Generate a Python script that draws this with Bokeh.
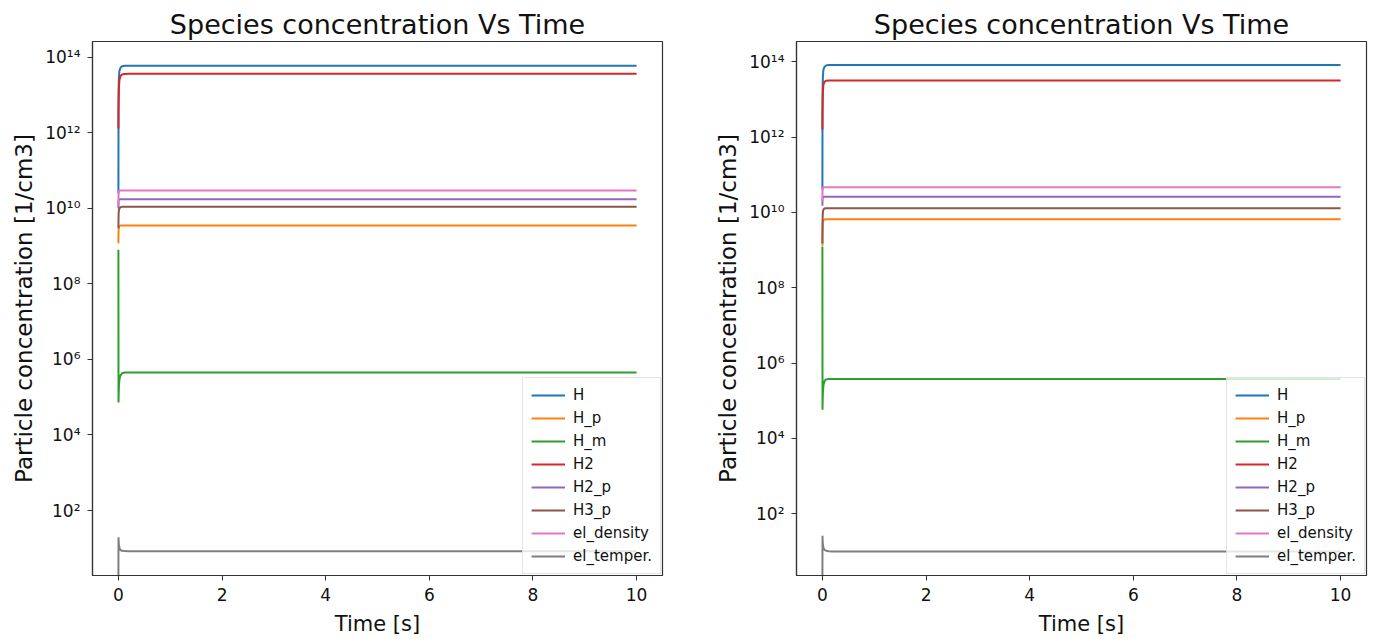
from bokeh.plotting import figure
from bokeh.layouts import row
from bokeh.models import FixedTicker, CustomJSTickFormatter, Range1d
from bokeh.embed import file_html
from bokeh.resources import INLINE

# ---------------- data ----------------
time_s = [0, 0.002, 0.005, 0.01, 0.02, 0.04, 0.07, 0.12, 0.2, 10]

species = ["H", "H_p", "H_m", "H2", "H2_p", "H3_p", "el_density", "el_temper."]
colors = ["#1f77b4", "#ff7f0e", "#2ca02c", "#d62728",
          "#9467bd", "#8c564b", "#e377c2", "#7f7f7f"]

# left panel
left_H = [2.5e10, 5.0e12, 1.6e13, 3.0e13, 4.4e13, 5.3e13, 5.8e13, 6.0e13, 6.0e13, 6.0e13]
left_H_p = [1.2e9, 2.2e9, 2.8e9, 3.2e9, 3.4e9, 3.5e9, 3.5e9, 3.5e9, 3.5e9, 3.5e9]
left_H_m = [8.0e8, 7.2e4, 1.2e5, 2.0e5, 3.0e5, 3.8e5, 4.3e5, 4.5e5, 4.5e5, 4.5e5]
left_H2 = [1.3e12, 4.0e12, 9.0e12, 1.6e13, 2.5e13, 3.2e13, 3.5e13, 3.65e13, 3.7e13, 3.7e13]
left_H2_p = [1.0e10, 1.45e10, 1.65e10, 1.72e10, 1.75e10, 1.75e10, 1.75e10, 1.75e10, 1.75e10, 1.75e10]
left_H3_p = [3.0e9, 5.5e9, 7.5e9, 9.0e9, 1.0e10, 1.07e10, 1.1e10, 1.1e10, 1.1e10, 1.1e10]
left_el_density = [1.2e10, 2.2e10, 2.7e10, 2.9e10, 3.0e10, 3.0e10, 3.0e10, 3.0e10, 3.0e10, 3.0e10]
left_el_temper = [1.0, 19.5, 15.0, 12.0, 10.0, 9.0, 8.6, 8.4, 8.3, 8.3]

# right panel
right_H = [4.0e10, 7.0e12, 2.3e13, 4.3e13, 6.2e13, 7.4e13, 8.0e13, 8.3e13, 8.3e13, 8.3e13]
right_H_p = [1.3e9, 3.0e9, 4.5e9, 5.5e9, 6.2e9, 6.5e9, 6.6e9, 6.6e9, 6.6e9, 6.6e9]
right_H_m = [1.25e9, 5.8e4, 1.0e5, 1.7e5, 2.6e5, 3.3e5, 3.7e5, 3.8e5, 3.8e5, 3.8e5]
right_H2 = [1.6e12, 5.0e12, 1.0e13, 1.7e13, 2.5e13, 2.95e13, 3.15e13, 3.2e13, 3.2e13, 3.2e13]
right_H2_p = [1.5e10, 2.2e10, 2.5e10, 2.6e10, 2.6e10, 2.6e10, 2.6e10, 2.6e10, 2.6e10, 2.6e10]
right_H3_p = [1.5e9, 5.0e9, 8.0e9, 1.05e10, 1.2e10, 1.27e10, 1.3e10, 1.3e10, 1.3e10, 1.3e10]
right_el_density = [2.0e10, 3.6e10, 4.3e10, 4.6e10, 4.7e10, 4.7e10, 4.7e10, 4.7e10, 4.7e10, 4.7e10]
right_el_temper = [1.0, 26.0, 19.0, 15.0, 12.5, 11.0, 10.4, 10.1, 10.0, 10.0]

x_ticks = [0, 2, 4, 6, 8, 10]
y_ticks = [1e2, 1e4, 1e6, 1e8, 1e10, 1e12, 1e14]

title_text = "Species concentration Vs Time"
x_label = "Time [s]"
y_label = "Particle concentration [1/cm3]"

left_series = [left_H, left_H_p, left_H_m, left_H2, left_H2_p, left_H3_p,
               left_el_density, left_el_temper]
right_series = [right_H, right_H_p, right_H_m, right_H2, right_H2_p, right_H3_p,
                right_el_density, right_el_temper]

FONT = "DejaVu Sans"
SPINE = "#333333"


def make_panel(series, y_lo, y_hi, width, b_left, b_right, b_top, b_bottom):
    p = figure(width=width, height=639, y_axis_type="log",
               x_range=Range1d(-0.5, 10.5), y_range=Range1d(y_lo, y_hi),
               output_backend="svg", toolbar_location=None,
               min_border_left=b_left, min_border_right=b_right,
               min_border_top=b_top, min_border_bottom=b_bottom,
               background_fill_color="white", border_fill_color="white")
    for name, col, vals in zip(species, colors, series):
        p.line(time_s, vals, line_color=col, line_width=2, legend_label=name)

    p.title.text = title_text
    p.title.align = "center"
    p.title.text_font = FONT
    p.title.text_font_size = "27px"
    p.title.text_font_style = "normal"
    p.title.text_color = "#111111"
    p.title.standoff = 4

    p.xgrid.visible = False
    p.ygrid.visible = False
    p.outline_line_color = SPINE
    p.outline_line_width = 1.2

    for ax in (p.xaxis[0], p.yaxis[0]):
        ax.axis_line_color = SPINE
        ax.axis_line_width = 1.2
        ax.major_tick_line_color = SPINE
        ax.major_tick_out = 5
        ax.major_tick_in = 0
        ax.minor_tick_line_color = None
        ax.major_label_text_font = FONT
        ax.major_label_text_font_size = "17px"
        ax.major_label_text_color = "#111111"
        ax.major_label_standoff = 7
        ax.axis_label_text_font = FONT
        ax.axis_label_text_font_style = "normal"
        ax.axis_label_text_color = "#111111"

    p.xaxis[0].ticker = FixedTicker(ticks=x_ticks)
    p.xaxis[0].axis_label = x_label
    p.xaxis[0].axis_label_text_font_size = "21px"
    p.xaxis[0].axis_label_standoff = 8

    p.yaxis[0].ticker = FixedTicker(ticks=y_ticks)
    p.yaxis[0].formatter = CustomJSTickFormatter(code="""
        const sup = {"0":"\u2070","1":"\u00b9","2":"\u00b2","3":"\u00b3","4":"\u2074",
                     "5":"\u2075","6":"\u2076","7":"\u2077","8":"\u2078","9":"\u2079","-":"\u207b"};
        const e = Math.round(Math.log10(tick));
        return "10" + String(e).split("").map(c => sup[c]).join("");
    """)
    p.yaxis[0].axis_label = y_label
    p.yaxis[0].axis_label_text_font_size = "23px"
    p.yaxis[0].axis_label_standoff = 5

    lg = p.legend[0]
    lg.location = "bottom_right"
    lg.border_line_color = "#cccccc"
    lg.border_line_width = 1
    lg.background_fill_color = "white"
    lg.background_fill_alpha = 0.8
    lg.label_text_font = FONT
    lg.label_text_font_size = "15px"
    lg.label_text_color = "#111111"
    lg.glyph_width = 34
    lg.glyph_height = 16
    lg.label_height = 16
    lg.spacing = 5
    lg.padding = 8
    lg.margin = 1
    lg.label_standoff = 8
    return p


p1 = make_panel(left_series, 1.9, 2.63e14, 700, 92, 38, 40, 64)
p2 = make_panel(right_series, 2.29, 3.47e14, 675, 96, 9, 41, 63)

layout = row(p1, p2)
open("out.html", "w").write(file_html(layout, INLINE))
